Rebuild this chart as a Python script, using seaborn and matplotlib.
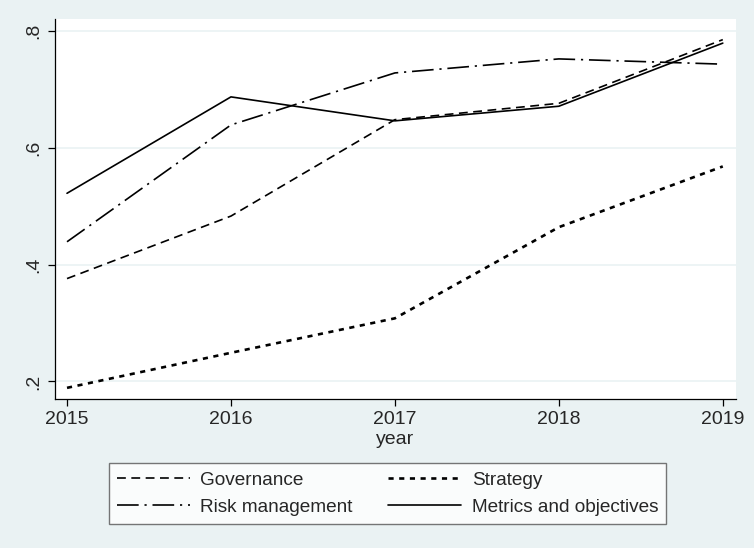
import pandas as pd
import seaborn as sns
import matplotlib.pyplot as plt

# values
years = [2015, 2016, 2017, 2018, 2019]
governance = [0.376, 0.483, 0.648, 0.676, 0.785]
strategy = [0.189, 0.249, 0.308, 0.464, 0.568]
risk_management = [0.439, 0.639, 0.728, 0.752, 0.743]
metrics = [0.522, 0.687, 0.646, 0.671, 0.779]

series_names = ["Governance", "Strategy", "Risk management", "Metrics and objectives"]
y_ticks = [0.2, 0.4, 0.6, 0.8]
y_tick_labels = [".2", ".4", ".6", ".8"]

BG = "#EAF2F3"


def to_long():
    ''' put the four series into one long table for seaborn '''
    rows = []
    for name, vals in zip(series_names, [governance, strategy, risk_management, metrics]):
        for yr, v in zip(years, vals):
            rows.append({"year": yr, "value": v, "series": name})
    return pd.DataFrame(rows)


def main():
    sns.set_style("white")
    plt.rcParams["font.family"] = ["Liberation Sans", "DejaVu Sans"]

    df = to_long()
    dashes = {
        "Governance": (5.3, 3.3),
        "Strategy": (1.5, 1.3),
        "Risk management": (13, 3.5, 1.3, 3.5),
        "Metrics and objectives": "",
    }

    fig = plt.figure(figsize=(7.54, 5.48), dpi=100, facecolor=BG)
    ax = fig.add_axes([0.073, 0.272, 0.903, 0.693])
    ax.set_facecolor("white")

    sns.lineplot(data=df, x="year", y="value", style="series", style_order=series_names,
                 dashes=dashes, color="black", linewidth=1.2, ax=ax, legend=True)
    # the dotted line is drawn heavier in the original
    ax.lines[1].set_linewidth(1.9)
    ax.lines[1].set_dashes((1.95, 2.1))

    ax.set_xlim(2014.927, 2019.08)
    ax.set_ylim(0.17, 0.82)
    ax.set_xticks(years)
    ax.set_xticklabels([str(y) for y in years], fontsize=14)
    ax.set_yticks(y_ticks)
    ax.set_yticklabels(y_tick_labels, fontsize=14, rotation=90, va="center")
    ax.set_xlabel("year", fontsize=14, labelpad=2)
    ax.set_ylabel("")
    ax.grid(axis="y", color=BG, linewidth=1.2)
    ax.set_axisbelow(True)

    for s in ["top", "right"]:
        ax.spines[s].set_visible(False)
    for s in ["left", "bottom"]:
        ax.spines[s].set_color("black")
        ax.spines[s].set_linewidth(0.9)
    ax.tick_params(axis="both", direction="out", length=5, width=0.9, color="black",
                   left=True, bottom=True, pad=4)

    handles, labels = ax.get_legend_handles_labels()
    ax.get_legend().remove()
    hmap = dict(zip(labels, handles))
    order = ["Governance", "Risk management", "Strategy", "Metrics and objectives"]
    for k, h in hmap.items():
        h.set_color("black")
        h.set_linewidth(1.2)
    hmap["Strategy"].set_linewidth(1.9)
    hmap["Strategy"].set_dashes((1.95, 2.1))
    leg = fig.legend([hmap[k] for k in order], order, ncol=2,
                     bbox_to_anchor=(387.5 / 754, 1 - 493.5 / 548), loc="center",
                     bbox_transform=fig.transFigure, fontsize=13.7, frameon=True,
                     fancybox=False, edgecolor="#555555", handlelength=3.85,
                     handletextpad=0.55, labelspacing=0.5, borderaxespad=0,
                     borderpad=0.42, columnspacing=1.85)
    leg.get_frame().set_linewidth(1.0)

    fig.savefig("out.png", dpi=100, facecolor=BG)


if __name__ == "__main__":
    main()
